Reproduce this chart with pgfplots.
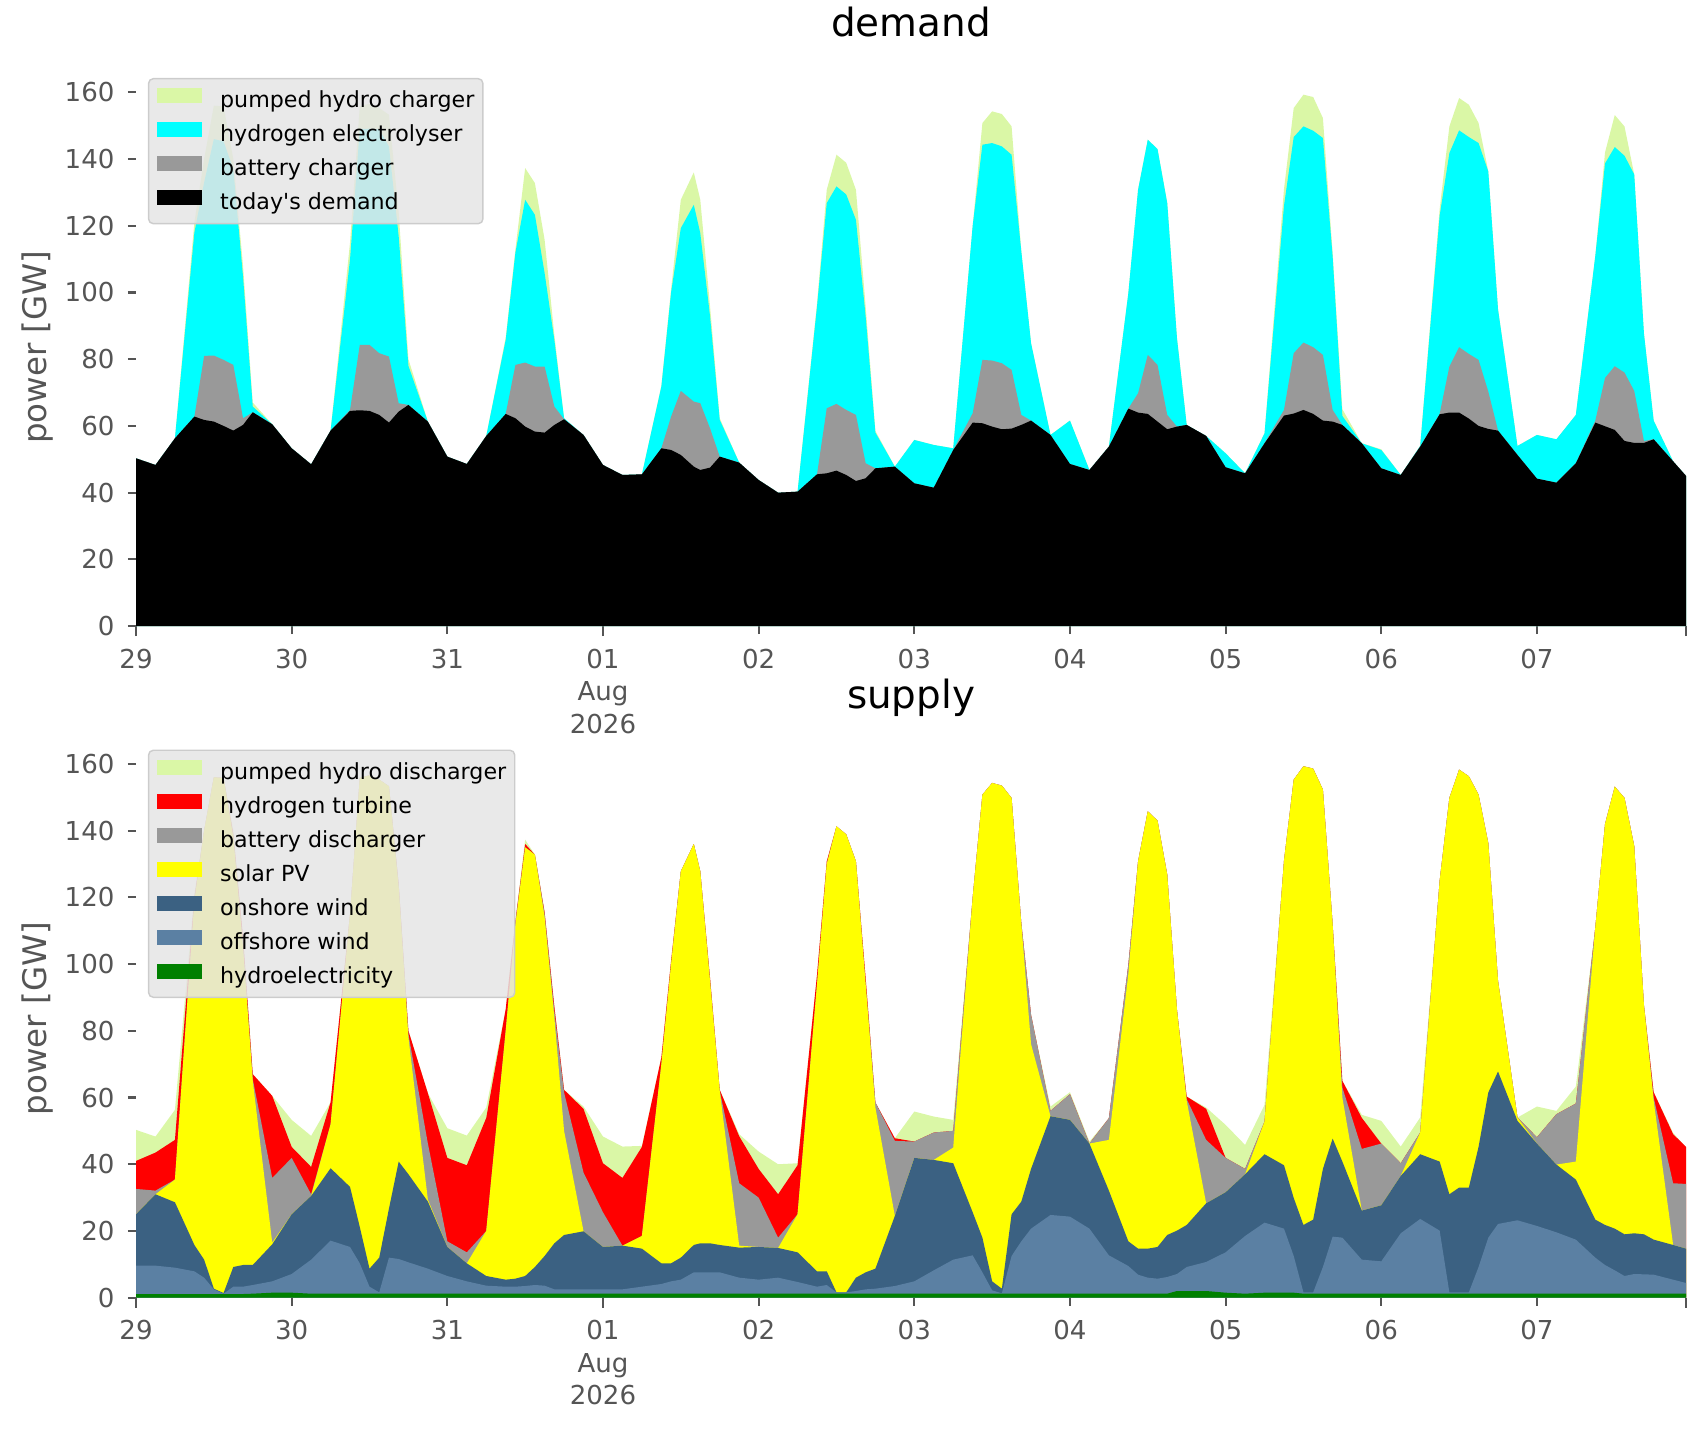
\documentclass[border=0pt]{standalone}
\usepackage{fontspec}
\setmainfont{DejaVu Sans}
\usepackage{pgfplots}
\usepackage{pgfplotstable}
\pgfplotsset{compat=1.18}
\definecolor{phc}{HTML}{DAF7A6}
\definecolor{elyc}{HTML}{00FFFF}
\definecolor{batt}{HTML}{999999}
\definecolor{solc}{HTML}{FFFF00}
\definecolor{redc}{HTML}{FF0000}
\definecolor{onw}{HTML}{3B6182}
\definecolor{offw}{HTML}{5B80A3}
\definecolor{hyd}{HTML}{008000}
\definecolor{tickc}{HTML}{555555}
\definecolor{legfill}{HTML}{E5E5E5}
\definecolor{legdraw}{HTML}{CCCCCC}

% cumulative tops: blk = today's demand, bat = + battery charger, ely = + electrolyser, tot = + pumped hydro charger
\pgfplotstableread{
h blk bat ely tot
0 50.3 50.3 50.3 50.3
3 48.3 48.3 48.3 48.3
6 56.3 56.3 56.3 56.3
9 62.8 62.8 118 121
10.5 61.8 81 133 140
12 61.3 81.1 146 156
13.5 60 79.8 145.3 155.8
15 58.6 78.3 137 140
16.5 60.3 62.3 104.8 108
18 64.1 64.1 65.8 67
21 60.5 60.5 60.5 60.5
24 53.3 53.3 53.3 53.3
27 48.5 48.5 48.5 48.5
30 58.6 58.6 58.6 58.6
33 64.5 64.8 110 115
34.5 64.7 84.3 149 155.8
36 64.5 84.3 149.1 156.6
37.5 63.3 81.8 148.9 155.3
39 61 80.8 143.8 153.3
40.5 64.3 66.8 116.8 124
42 66.3 66.3 78 80
45 61.3 61.3 61.3 61.3
48 50.8 50.8 50.8 50.8
51 48.6 48.6 48.6 48.6
54 57 57 57 57
57 63.6 63.6 85.8 86.5
58.5 62.3 78.3 112 113
60 59.8 79 127.8 137.3
61.5 58.3 77.8 123.3 132.8
63 58 77.8 105.8 115.8
64.5 60.3 65.8 85.8 87.3
66 62 62 62.3 62.3
69 57.3 57.3 57.3 57.3
72 48.3 48.3 48.3 48.3
75 45.3 45.3 45.3 45.3
78 45.5 45.5 45.5 45.5
81 53.3 53.3 71.8 72
82.5 52.8 62.8 100 101
84 51.3 70.5 119.3 127.8
86 47.8 67.3 126.3 136
87 46.8 66.8 117.8 127.8
88.5 47.5 59.3 93 96
90 50.8 50.8 61.8 62.3
93 49 49 49 49
96 43.8 43.8 43.8 43.8
99 40 40 40 40
102 40.3 40.3 40.3 40.3
105 45.5 45.5 95.8 96.8
106.5 45.8 65.3 126.8 130.8
108 46.6 66.6 131.8 141.3
109.5 45.3 64.8 129.4 138.9
111 43.5 63.3 121.8 130.8
112.5 44.3 48.8 92.8 95.8
114 47.3 47.3 58 58.5
117 47.8 47.8 47.8 47.8
120 42.8 42.8 55.8 55.8
123 41.5 41.5 54.3 54.3
126 52.8 52.8 53.3 53.3
129 61 63.8 120 120
130.5 60.8 79.8 144.3 150.8
132 59.8 79.6 144.8 154.3
133.5 59 78.8 143.8 153.5
135 59.2 76.8 141.3 149.8
136.5 60.3 63.3 112.3 112.3
138 61.6 61.6 84.8 84.8
141 57.3 57.3 57.3 57.3
144 48.6 48.6 61.6 61.6
147 46.8 46.8 46.8 46.8
150 53.8 53.8 53.8 53.8
153 65.2 65.2 99.8 99.8
154.5 64 69.8 130.8 130.8
156 63.6 81.3 145.8 145.8
157.5 61.3 78.3 143 143
159 59 63.3 126.8 126.8
160.5 59.8 59.8 86.3 86.3
162 60.3 60.3 60.3 60.3
165 57 57 57 57
168 47.6 47.6 51.8 51.8
171 45.8 45.8 45.8 45.8
174 54.8 54.8 57.8 57.8
177 63.1 64.8 126 131
178.5 63.7 81.8 146.6 155.3
180 64.8 85 149.8 159.3
181.5 63.6 83.6 148.5 158.6
183 61.6 81.3 146.3 152.3
184.5 61.3 64.8 110.8 112
186 60.3 60.3 63 65
189 54.8 54.8 54.8 54.8
192 47.3 47.3 52.8 53
195 45.3 45.3 45.3 45.3
198 53.8 53.8 54 54
201 63.5 63.6 123 125
202.5 64 77.8 141.8 149.8
204 64 83.6 148.6 158.3
205.5 62.2 81.6 146.6 156.3
207 60 79.8 144.8 150.8
208.5 59.1 70.3 136.3 136.3
210 58.6 58.6 95 95
213 51.3 51.3 54 54
216 44.2 44.2 57.3 57.3
219 43 43 56 56
222 48.8 48.8 63.3 63.3
225 61 61.6 111 111
226.5 59.9 74.4 138.7 142
228 58.8 77.9 143.6 153.2
229.5 55.5 76 141 149.8
231 54.9 70.5 135.4 135.4
232.5 54.9 55.5 87.7 87.7
234 56 56 61.6 61.6
237 49.4 49.4 49.4 49.4
239 45 45 45 45
}\demand

% cumulative tops: hyd, + offshore, + onshore, + solar, + battery, + H2 turbine, + pumped hydro
\pgfplotstableread{
h hyd off on sol bat htwo tot
0 1.1 9.6 25.0 25.0 32.6 41.0 50.3
3 1.1 9.6 31.0 31.0 32.1 43.5 48.3
6 1.1 9.0 28.6 35.4 35.4 47.3 56.3
9 1.1 7.9 15.8 119 119 120 121
10.5 1.1 6 11.4 140 140 140 140
12 1.1 2.5 2.7 156 156 156 156
13.5 1.1 1.2 1.4 155.8 155.8 155.8 155.8
15 1.1 3.3 9.2 138 138 139 140
16.5 1.1 3.3 9.8 105 106 108 108
18 1.2 3.8 9.8 65 65.5 67 67
21 1.5 4.9 16 16.5 35.9 60.5 60.5
24 1.5 7.1 25 25 41.9 45.2 53.3
27 1.2 11.4 30.5 30.5 31 39.2 48.5
30 1.2 17.1 38.8 52 52 58.6 58.6
33 1.2 15.2 33.2 115 115 115 115
34.5 1.2 10.3 21.2 155.8 155.8 155.8 155.8
36 1.2 3.3 8.7 156.6 156.6 156.6 156.6
37.5 1.2 1.6 12 155.3 155.3 155.3 155.3
39 1.2 12 26.7 153.3 153.3 153.3 153.3
40.5 1.2 11.6 40.8 123 123.5 124 124
42 1.2 10.6 37 78 79 80 80
45 1.2 8.7 28.8 29.4 46.2 61.3 61.3
48 1.2 6.5 15.2 15.2 16.9 41.9 50.8
51 1.2 4.9 10.3 10.3 13.6 39.7 48.6
54 1.2 3.6 6.5 20 20 53.9 57
57 1.2 3.3 5.4 80 80 86.5 86.5
58.5 1.2 3.3 5.7 112 112.5 113 113
60 1.2 3.5 6.5 135 135 136 137.3
61.5 1.2 3.8 9.2 132.8 132.8 132.8 132.8
63 1.2 3.6 12.5 114 115 115.5 115.8
64.5 1.2 2.5 16.3 84 86 87.3 87.3
66 1.2 2.5 18.8 50 61.5 62.3 62.3
69 1.2 2.5 19.9 19.9 37.5 56.6 57.3
72 1.2 2.5 15.2 15.2 25.6 40.3 48.3
75 1.2 2.5 15.6 15.6 15.6 35.9 45.3
78 1.2 3.3 14.7 18.5 18.5 45.2 45.5
81 1.2 4.1 10.3 70 70 72 72
82.5 1.2 4.9 10.3 100 100 101 101
84 1.2 5.4 12 127.8 127.8 127.8 127.8
86 1.2 7.6 15.8 136 136 136 136
87 1.2 7.6 16.3 127.8 127.8 127.8 127.8
88.5 1.2 7.6 16.3 95 95 96 96
90 1.2 7.6 15.8 62 62 62.3 62.3
93 1.2 6 15 15.6 34.3 48.4 49
96 1.2 5.4 15.2 15.2 30 38.6 43.8
99 1.2 6 14.9 14.9 18 31 40
102 1.2 4.7 13.6 25 25 39.7 40.3
105 1.2 3.3 7.9 94 94 96.8 96.8
106.5 1.2 3.8 7.9 130 130 130.8 130.8
108 1.2 1.6 1.6 141.3 141.3 141.3 141.3
109.5 1.2 1.6 1.6 138.9 138.9 138.9 138.9
111 1.2 2 6 130.8 130.8 130.8 130.8
112.5 1.2 2.5 7.6 94 94 95.8 95.8
114 1.2 2.7 8.7 57 58.5 58.5 58.5
117 1.2 3.5 24.5 24.5 47 47.8 47.8
120 1.2 4.9 41.9 41.9 46.8 46.8 55.8
123 1.2 8.2 41.3 41.3 49.5 49.5 54.3
126 1.2 11.4 40.3 45 50 50 53.3
129 1.2 12.7 25.6 120 120 120 120
130.5 1.2 7.6 18 150.8 150.8 150.8 150.8
132 1.2 2.2 4.9 154.3 154.3 154.3 154.3
133.5 1.2 1.3 2.7 153.5 153.5 153.5 153.5
135 1.2 12.5 25 149.8 149.8 149.8 149.8
136.5 1.2 16.9 28.8 112 112.3 112.3 112.3
138 1.2 20.7 38.6 76 84.8 84.8 84.8
141 1.2 24.8 54.4 54.4 56 56 57.3
144 1.2 24.3 53.3 53.3 61 61 61.6
147 1.2 20.7 46.2 46.2 46.2 46.2 46.8
150 1.2 12.7 32.1 47.3 53.8 53.8 53.8
153 1.2 9.5 16.9 97 99.8 99.8 99.8
154.5 1.2 6.9 14.7 130.8 130.8 130.8 130.8
156 1.2 6 14.7 145.8 145.8 145.8 145.8
157.5 1.2 5.7 15.2 143 143 143 143
159 1.2 6.2 18.8 126.8 126.8 126.8 126.8
160.5 2 7.1 20.1 86.3 86.3 86.3 86.3
162 2 9.2 21.8 59 59.5 60.3 60.3
165 2 10.7 28.3 28.3 47.3 56.6 57
168 1.5 13.6 31.6 31.6 41.9 41.9 51.8
171 1.2 18.5 37 37 38.6 38.6 45.8
174 1.5 22.5 43 52.8 52.8 52.8 57.8
177 1.5 20.7 39.7 131 131 131 131
178.5 1.5 12.5 29.9 155.3 155.3 155.3 155.3
180 1.2 1.6 21.8 159.3 159.3 159.3 159.3
181.5 1.2 1.6 23.4 158.6 158.6 158.6 158.6
183 1.2 9.2 38.6 152.3 152.3 152.3 152.3
184.5 1.2 18.3 47.7 112 112 112 112
186 1.2 18 40.8 60 63 65 65
189 1.2 11.4 26.1 26.1 44.6 53.9 54.8
192 1.2 10.9 27.7 27.7 46.2 46.2 53
195 1.2 19.3 36.5 36.5 40.3 40.3 45.3
198 1.2 23.6 43 49.5 49.5 49.5 54
201 1.2 20.1 40.8 125 125 125 125
202.5 1.2 1.6 31 149.8 149.8 149.8 149.8
204 1.2 1.6 33 158.3 158.3 158.3 158.3
205.5 1.2 1.6 33 156.3 156.3 156.3 156.3
207 1.2 9.2 45.2 150.8 150.8 150.8 150.8
208.5 1.2 18 61.5 136.3 136.3 136.3 136.3
210 1.2 22.1 67.8 95 95 95 95
213 1.2 23.2 53 54 54 54 54
216 1.2 21.5 46.2 46.2 48.1 48.1 57.3
219 1.2 19.6 39.9 39.9 55 55 56
222 1.2 17.4 35.4 40.8 58.2 58.2 63.3
225 1.2 12 23.4 111 111 111 111
226.5 1.2 9.8 21.8 142 142 142 142
228 1.2 8.2 20.7 153.2 153.2 153.2 153.2
229.5 1.2 6.5 19 149.8 149.8 149.8 149.8
231 1.2 7.1 19.3 135.4 135.4 135.4 135.4
232.5 1.2 7 19 87.7 87.7 87.7 87.7
234 1.2 6.9 17.4 59 60 61.6 61.6
237 1.2 5.4 15.8 15.8 34.3 49 49.4
239 1.2 4.4 14.7 14.7 34.1 45.2 45
}\supply

\pgfplotsset{
  panel/.style={
    scale only axis, width=654.1pt, height=235.5pt,
    anchor=south west,
    xmin=0, xmax=239, ymin=0, ymax=167.3,
    axis lines*=left, axis line style={draw=none},
    tick align=outside, major tick length=3.4pt,
    tick style={color=tickc, line width=0.9pt},
    /pgf/number format/assume math mode=true,
    xtick={0,24,...,216},
    xticklabels={29,30,31,{01\\Aug\\2026},02,03,04,05,06,07},
    extra x ticks={0,72,239}, extra x tick labels={},
    extra x tick style={major tick length=4.2pt},
    ytick={0,20,...,160},
    xticklabel style={font=\fontsize{11}{13.7}\selectfont, text=tickc, align=center, anchor=north, inner sep=0pt},
    xticklabel shift=6pt,
    yticklabel style={font=\fontsize{11}{13.7}\selectfont, text=tickc, anchor=east, inner sep=0pt},
    yticklabel shift=5.5pt,
    title style={font=\fontsize{16.4}{19}\selectfont, at={(0.5,1)}, anchor=base, yshift=7.2pt},
    every axis y label/.style={at={(axis description cs:-0.0633,0.5)}, rotate=90, anchor=center, font=\fontsize{13.7}{16}\selectfont, text=tickc},
    ylabel={power [GW]},
    legend cell align=left,
    legend image code/.code={\fill[#1, fill opacity=1, sharp corners] (0pt,-0.65pt) rectangle (19pt,5.65pt);},
    legend style={at={(axis description cs:0,1)}, anchor=north west, xshift=5pt, yshift=-4.2pt,
      fill=legfill, fill opacity=0.85, text opacity=1, draw=legdraw, line width=0.6pt, rounded corners=2pt,
      font=\fontsize{9.35}{11}\selectfont, column sep=7.6pt, row sep=4.2pt,
      inner xsep=3.6pt, inner ysep=4pt,
      nodes={inner sep=0pt, text height=7pt, text depth=2pt}},
  }
}

\begin{document}
\begin{tikzpicture}
\path[use as bounding box] (-57.4pt,-339.7pt) rectangle (662.5pt,264.2pt);
\begin{axis}[panel, at={(0pt,0pt)}, title={demand}]
\addplot[fill=phc, draw=none] table[x=h, y=tot] {\demand} \closedcycle;
\addlegendentry{pumped hydro charger}
\addplot[fill=elyc, draw=none] table[x=h, y=ely] {\demand} \closedcycle;
\addlegendentry{hydrogen electrolyser}
\addplot[fill=batt, draw=none] table[x=h, y=bat] {\demand} \closedcycle;
\addlegendentry{battery charger}
\addplot[fill=black, draw=none] table[x=h, y=blk] {\demand} \closedcycle;
\addlegendentry{today\textquotesingle s demand}
\end{axis}
\begin{axis}[panel, at={(0pt,-283.4pt)}, title={supply}]
\addplot[fill=phc, draw=none] table[x=h, y=tot] {\supply} \closedcycle;
\addlegendentry{pumped hydro discharger}
\addplot[fill=redc, draw=none] table[x=h, y=htwo] {\supply} \closedcycle;
\addlegendentry{hydrogen turbine}
\addplot[fill=batt, draw=none] table[x=h, y=bat] {\supply} \closedcycle;
\addlegendentry{battery discharger}
\addplot[fill=solc, draw=none] table[x=h, y=sol] {\supply} \closedcycle;
\addlegendentry{solar PV}
\addplot[fill=onw, draw=none] table[x=h, y=on] {\supply} \closedcycle;
\addlegendentry{onshore wind}
\addplot[fill=offw, draw=none] table[x=h, y=off] {\supply} \closedcycle;
\addlegendentry{offshore wind}
\addplot[fill=hyd, draw=none] table[x=h, y=hyd] {\supply} \closedcycle;
\addlegendentry{hydroelectricity}
\end{axis}
\end{tikzpicture}
\end{document}
